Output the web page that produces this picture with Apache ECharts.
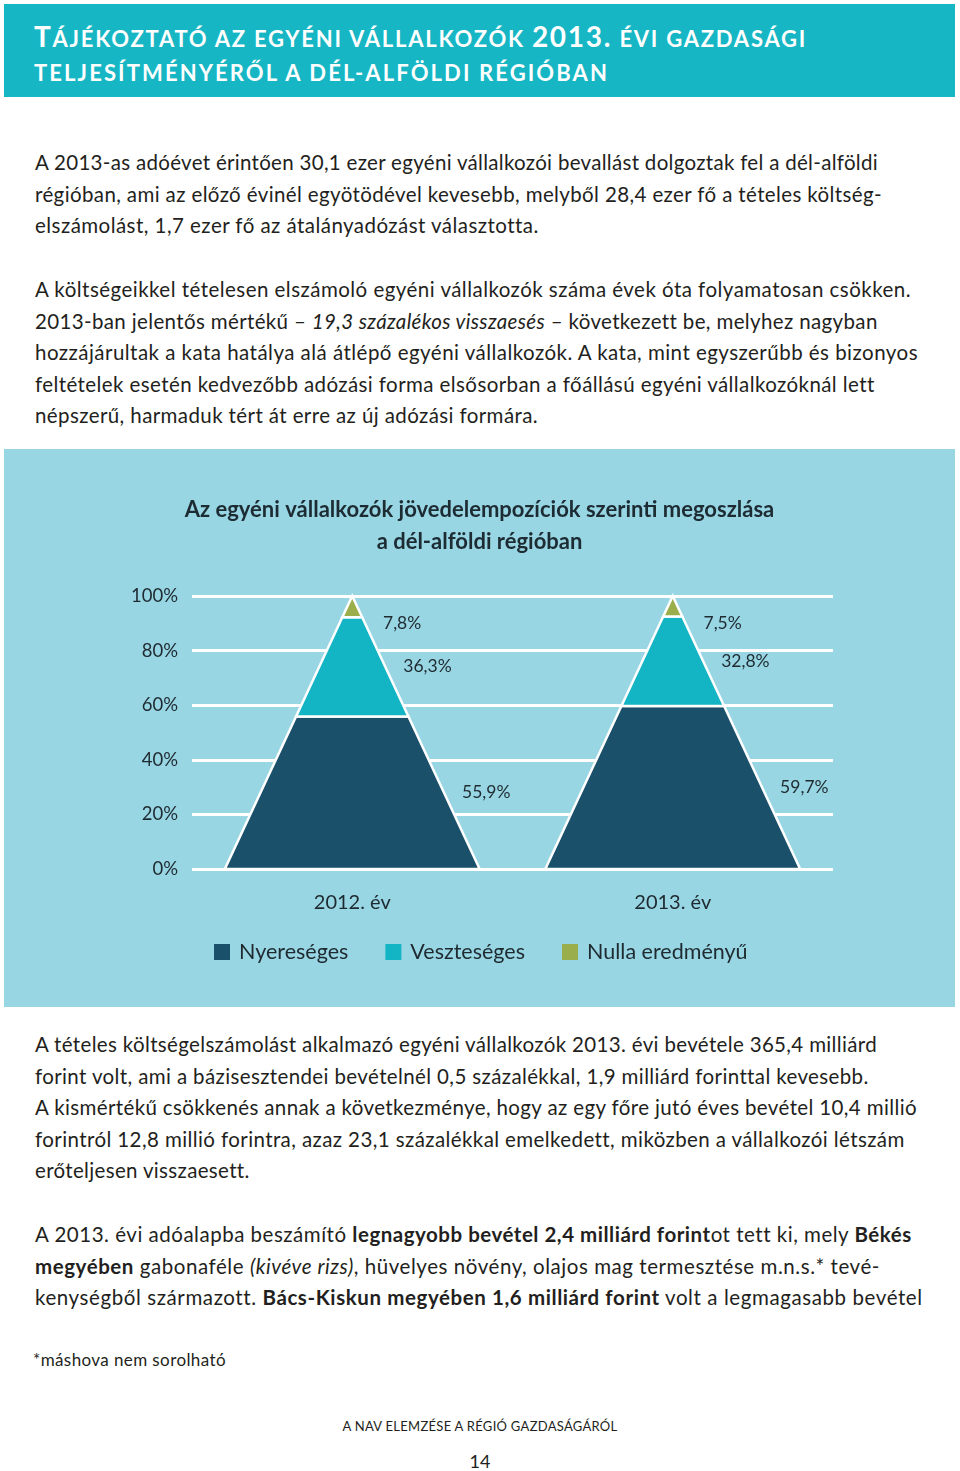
<!DOCTYPE html>
<html>
<head>
<meta charset="utf-8">
<script src="https://cdn.jsdelivr.net/npm/echarts@6/dist/echarts.min.js"></script>
<style>
  html, body { margin: 0; padding: 0; background: #ffffff; }
  body { width: 960px; height: 1471px; position: relative; overflow: hidden; font-family: Lato, "Noto Sans", sans-serif; color: #231f20; }
  #header { position: absolute; left: 4px; top: 4px; width: 951px; height: 93px; background: #16b6c4; }
  #htitle { position: absolute; left: 34px; top: 20px; color: #ffffff; font-weight: bold; line-height: 32px; white-space: nowrap; }
  #htitle .big { font-size: 28px; }
  #htitle .sc { font-size: 22px; text-transform: uppercase; }
  .para { position: absolute; left: 35px; font-size: 20.5px; line-height: 31.5px; white-space: nowrap; }
  .ln { display: block; height: 31.5px; }
  .ln span { white-space: nowrap; }
  #chart { position: absolute; left: 4px; top: 449px; width: 951px; height: 558px; }
  #foot1 { position: absolute; left: 33px; top: 1348px; font-size: 17px; line-height: 24px; white-space: nowrap; }
  #foot2 { position: absolute; left: 0; width: 960px; text-align: center; top: 1416px; font-size: 13px; line-height: 20px; }
  #pageno { position: absolute; left: 0; width: 960px; text-align: center; top: 1449px; font-size: 18px; line-height: 24px; }
</style>
</head>
<body>
<div id="header"></div>
<div id="htitle"><div><span class="hl" data-w="773"><span class="big">T</span><span class="sc">ájékoztató az egyéni vállalkozók </span><span class="big">2013.</span><span class="sc"> évi gazdasági</span></span></div><div><span class="hl" data-w="575"><span class="sc">teljesítményéről a dél-alföldi régióban</span></span></div></div>

<div class="para" style="top:147px">
  <div class="ln" data-w="843"><span>A 2013-as adóévet érintően 30,1 ezer egyéni vállalkozói bevallást dolgoztak fel a dél-alföldi</span></div>
  <div class="ln" data-w="847"><span>régióban, ami az előző évinél egyötödével kevesebb, melyből 28,4 ezer fő a tételes költség-</span></div>
  <div class="ln" data-w="503"><span>elszámolást, 1,7 ezer fő az átalányadózást választotta.</span></div>
</div>

<div class="para" style="top:274px">
  <div class="ln" data-w="876"><span>A költségeikkel tételesen elszámoló egyéni vállalkozók száma évek óta folyamatosan csökken.</span></div>
  <div class="ln" data-w="842"><span>2013-ban jelentős mértékű – <i>19,3 százalékos visszaesés</i> – következett be, melyhez nagyban</span></div>
  <div class="ln" data-w="883"><span>hozzájárultak a kata hatálya alá átlépő egyéni vállalkozók. A kata, mint egyszerűbb és bizonyos</span></div>
  <div class="ln" data-w="839"><span>feltételek esetén kedvezőbb adózási forma elsősorban a főállású egyéni vállalkozóknál lett</span></div>
  <div class="ln" data-w="503"><span>népszerű, harmaduk tért át erre az új adózási formára.</span></div>
</div>

<div id="chart"></div>

<div class="para" style="top:1029px">
  <div class="ln" data-w="842"><span>A tételes költségelszámolást alkalmazó egyéni vállalkozók 2013. évi bevétele 365,4 milliárd</span></div>
  <div class="ln" data-w="833"><span>forint volt, ami a bázisesztendei bevételnél 0,5 százalékkal, 1,9 milliárd forinttal kevesebb.</span></div>
  <div class="ln" data-w="882"><span>A kismértékű csökkenés annak a következménye, hogy az egy főre jutó éves bevétel 10,4 millió</span></div>
  <div class="ln" data-w="869"><span>forintról 12,8 millió forintra, azaz 23,1 százalékkal emelkedett, miközben a vállalkozói létszám</span></div>
  <div class="ln" data-w="214"><span>erőteljesen visszaesett.</span></div>
</div>

<div class="para" style="top:1219px">
  <div class="ln" data-w="876"><span>A 2013. évi adóalapba beszámító <b>legnagyobb bevétel 2,4 milliárd forint</b>ot tett ki, mely <b>Békés</b></span></div>
  <div class="ln" data-w="845"><span><b>megyében</b> gabonaféle <i>(kivéve rizs)</i>, hüvelyes növény, olajos mag termesztése m.n.s.* tevé-</span></div>
  <div class="ln" data-w="887"><span>kenységből származott. <b>Bács-Kiskun megyében 1,6 milliárd forint</b> volt a legmagasabb bevétel</span></div>
</div>

<div id="foot1"><span class="fit" data-w="193">*máshova nem sorolható</span></div>
<div id="foot2"><span class="fit" data-w="275">A NAV ELEMZÉSE A RÉGIÓ GAZDASÁGÁRÓL</span></div>
<div id="pageno">14</div>

<script>
// ---- Data ----
const categories = ['2012. év', '2013. év'];
const nyereseges = [55.9, 59.7];   // Nyereséges
const veszteseges = [36.3, 32.8];  // Veszteséges
const nulla = [7.8, 7.5];          // Nulla eredményű
const seriesNames = ['Nyereséges', 'Veszteséges', 'Nulla eredményű'];
const yTicks = [0, 20, 40, 60, 80, 100];

// ---- Fit text lines to reference widths ----
function fitLines() {
  document.querySelectorAll('.ln').forEach(function (ln) {
    const span = ln.querySelector('span');
    const target = parseFloat(ln.getAttribute('data-w'));
    span.style.letterSpacing = '0px';
    const w = span.getBoundingClientRect().width;
    const n = span.textContent.length;
    if (n > 1) span.style.letterSpacing = ((target - w) / n) + 'px';
  });
  document.querySelectorAll('.hl, .fit').forEach(function (el) {
    el.style.display = 'inline-block';
    const target = parseFloat(el.getAttribute('data-w'));
    el.style.letterSpacing = '0px';
    const w = el.getBoundingClientRect().width;
    const n = el.textContent.length;
    if (n > 1) el.style.letterSpacing = ((target - w) / n) + 'px';
  });
}
fitLines();

// ---- Chart ----
const colors = ['#1b506a', '#13b4c3', '#9bae4c'];
const segs = [nyereseges, veszteseges, nulla];

function buildData(k) {
  return categories.map(function (c, i) {
    let lo = 0;
    for (let j = 0; j < k; j++) lo += segs[j][i];
    return [i, lo, lo + segs[k][i], segs[k][i]];
  });
}

const BASE_RATIO = 0.795;

function renderPyr(params, api) {
  const idx = api.value(0);
  const lo = api.value(1);
  const hi = Math.min(api.value(2), 100);
  const val = api.value(3);
  const base = api.coord([idx, 0]);
  const cx = base[0];
  const halfBase = api.size([1, 0])[0] * BASE_RATIO / 2;
  function hw(v) { return halfBase * (1 - v / 100); }
  const yLo = api.coord([idx, lo])[1];
  const yHi = api.coord([idx, hi])[1];
  const mid = Math.min((lo + hi) / 2, 90);
  const yMid = api.coord([idx, mid])[1];
  const pts = [
    [cx - hw(lo), yLo], [cx + hw(lo), yLo],
    [cx + hw(hi), yHi], [cx - hw(hi), yHi]
  ];
  return {
    type: 'group',
    children: [
      {
        type: 'polygon',
        shape: { points: pts },
        style: { fill: api.visual('color'), stroke: '#ffffff', lineWidth: 2.5, lineJoin: 'miter' }
      },
      {
        type: 'text',
        x: cx + hw(mid) + 18,
        y: yMid,
        style: {
          text: val.toFixed(1).replace('.', ',') + '%',
          fill: '#1f2a30',
          font: '17.5px Lato, "Noto Sans", sans-serif',
          verticalAlign: 'middle',
          align: 'left'
        }
      }
    ]
  };
}

const chart = echarts.init(document.getElementById('chart'), null, { renderer: 'canvas' });
chart.setOption({
  backgroundColor: '#98d6e4',
  animation: false,
  color: colors,
  textStyle: { fontFamily: 'Lato, "Noto Sans", sans-serif' },
  title: {
    text: 'Az egyéni vállalkozók jövedelempozíciók szerinti megoszlása\na dél-alföldi régióban',
    left: 'center',
    top: 40,
    textStyle: { fontSize: 22, fontWeight: 'bold', color: '#1d2b33', lineHeight: 32, fontFamily: 'Lato, "Noto Sans", sans-serif' }
  },
  legend: {
    data: seriesNames.map(function (n, k) { return { name: n, itemStyle: { color: colors[k] } }; }),
    left: 205,
    top: 487,
    icon: 'rect',
    itemWidth: 16,
    itemHeight: 16,
    itemGap: 37,
    textStyle: { fontSize: 21.5, color: '#1f2a30', padding: [0, 0, 0, 4] }
  },
  grid: { left: 188, width: 641, top: 147, height: 273, containLabel: false },
  xAxis: {
    type: 'category',
    data: categories,
    axisLine: { show: false },
    axisTick: { show: false },
    axisLabel: { fontSize: 20, color: '#1f2a30', margin: 24 }
  },
  yAxis: {
    type: 'value',
    min: 0,
    max: 100,
    interval: 20,
    axisLine: { show: false },
    axisTick: { show: false },
    axisLabel: { fontSize: 18.5, color: '#1f2a30', margin: 14, formatter: function (v) { return yTicks.indexOf(v) >= 0 ? v + '%' : ''; } },
    splitLine: { lineStyle: { color: '#ffffff', width: 3 } }
  },
  series: seriesNames.map(function (n, k) {
    return {
      name: n,
      type: 'custom',
      renderItem: renderPyr,
      encode: { x: 0, y: [1, 2] },
      data: buildData(k),
      z: 2
    };
  })
});
</script>
</body>
</html>
